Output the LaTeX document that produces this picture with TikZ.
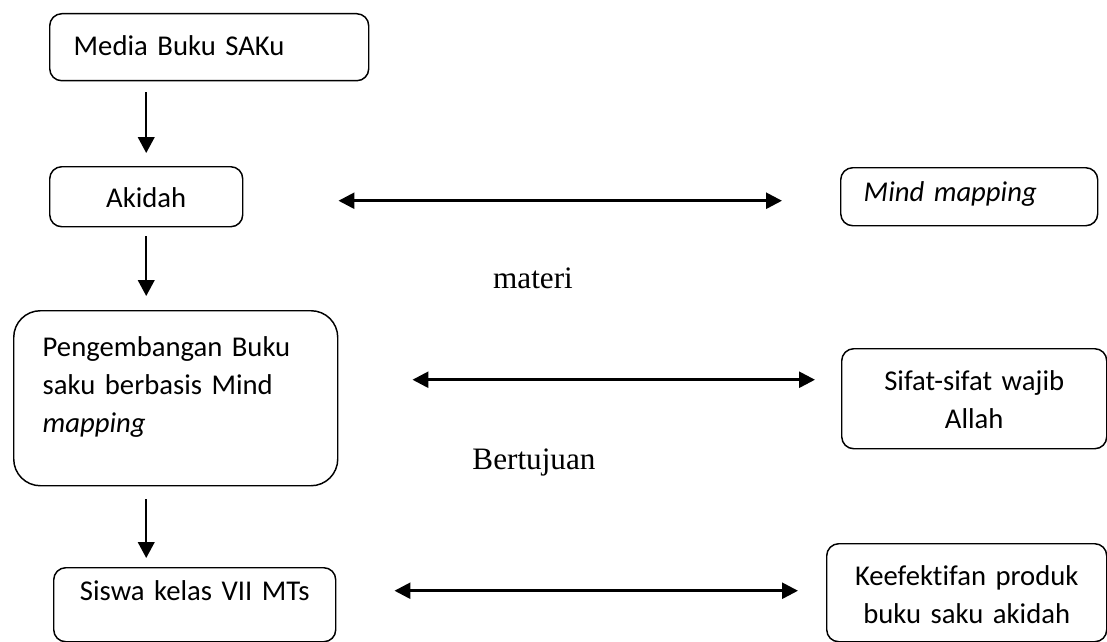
\documentclass[tikz,border=0pt]{standalone}
\usepackage{fontspec}
\setmainfont{Carlito}[Ligatures=NoCommon]
\newfontfamily\timesfont{Liberation Serif}
\usetikzlibrary{arrows.meta,calc}
\tikzset{
  box/.style={draw, line width=1.1pt, rounded corners=9pt, inner ysep=0pt, anchor=north west,
    font=\fontsize{21.5}{28.5}\selectfont},
  down/.style={-{Triangle[length=12pt,width=12.5pt]}, line width=1.5pt},
  twoway/.style={{Triangle[length=12pt,width=12pt]}-{Triangle[length=12pt,width=12pt]}, line width=2pt},
  word/.style={font=\timesfont\fontsize{23.4}{28}\selectfont}
}
\begin{document}
\begin{tikzpicture}[x=0.75pt, y=-0.75pt]
  \useasboundingbox (0,0) rectangle (1107,642);

  \node[box, inner xsep=18pt, text width=203.25pt, align=left, text height=31.5pt, text depth=18.75pt] (media) at (49,13) {Media Buku SAKu};
  \node[box, inner xsep=0pt, text width=144.75pt, align=center, text height=30.75pt, text depth=14.25pt] (akidah) at (49,166) {Akidah};
  \node[box, inner xsep=17.25pt, text width=158.25pt, align=left, text height=25.5pt, text depth=18pt] (mindmap) at (840,167) {\textit{Mind mapping}};
  \node[box, rounded corners=20pt, inner xsep=21.75pt, text width=199.5pt, align=left, text height=34.5pt, text depth=96.75pt] (peng) at (13,310) {Pengembangan Buku\\ saku berbasis Mind\\ \textit{mapping}};
  \node[box, inner xsep=0pt, text width=198.75pt, align=center, text height=31.5pt, text depth=43.5pt] (sifat) at (841,348) {Sifat-sifat wajib\\ Allah};
  \node[box, inner xsep=0pt, text width=210pt, align=center, text height=31.5pt, text depth=42pt] (keef) at (826,543) {Keefektifan produk\\ buku saku akidah};
  \node[box, inner xsep=0pt, text width=211.5pt, align=center, text height=24.75pt, text depth=30.75pt] (siswa) at (53,567) {Siswa kelas VII MTs};

  \node[word] (materi) at (533,278) {materi};
  \node[word] (tujuan) at (534,462) {Bertujuan};

  \draw[down] ($(media.south -| akidah)+(0,11)$) -- ($(akidah.north)+(0,-13)$);
  \draw[down] ($(akidah.south)+(0,9)$) -- ($(akidah.south |- peng.north)+(0,-14)$);
  \draw[down] ($(peng.south -| akidah)+(0,13)$) -- ($(siswa.north -| akidah)+(0,-9)$);

  \draw[twoway] ($(akidah.east)+(95,4)$) -- ($(mindmap.west)+(-58,4)$);
  \draw[twoway] ($(peng.east)+(74,-18.5)$) -- ($(sifat.west)+(-26,-19)$);
  \draw[twoway] ($(siswa.east)+(58,-14)$) -- ($(keef.west)+(-28,-2)$);
\end{tikzpicture}
\end{document}
